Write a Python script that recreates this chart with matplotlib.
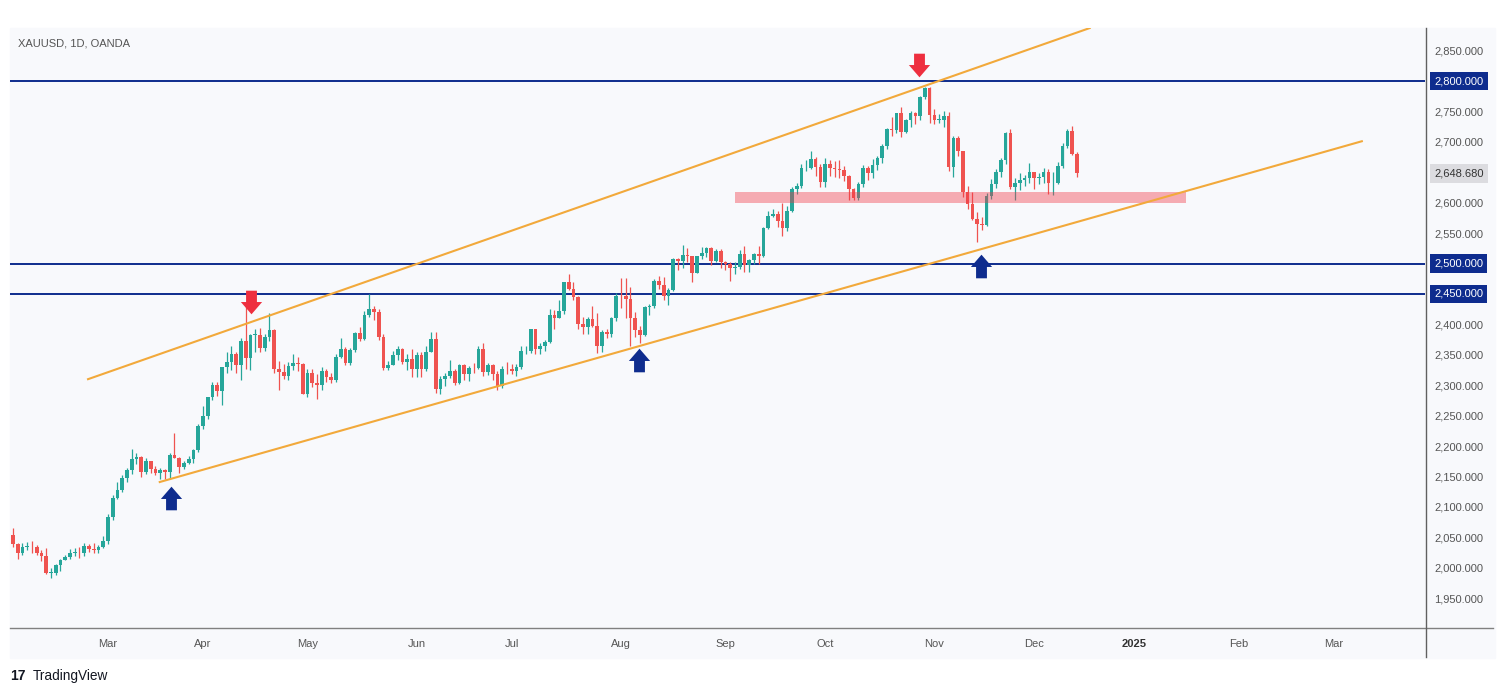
import numpy as np
import pandas as pd
import matplotlib
matplotlib.use("Agg")
import matplotlib.pyplot as plt
from matplotlib.path import Path
from matplotlib.patches import Rectangle
from matplotlib.lines import Line2D

plt.rcParams['font.family'] = ['Liberation Sans', 'DejaVu Sans']

# XAUUSD daily, OANDA (Feb 2 - Dec 13 2024)
first_open = 2054
close = [
    # Feb
    2039, 2025, 2035, 2035, 2034, 2024, 2020, 1992, 1992, 2004, 2013, 2017, 2025, 2025, 2024, 2036, 2031, 2030, 2034, 2044,
    # Mar
    2083, 2114, 2128, 2148, 2160, 2179, 2182, 2158, 2175, 2162, 2155, 2160, 2157, 2186, 2181, 2165, 2172, 2179, 2194, 2233,
    # Apr
    2250, 2280, 2300, 2290, 2330, 2339, 2352, 2333, 2372, 2344, 2383, 2383, 2361, 2379, 2391, 2327, 2322, 2316, 2332, 2337, 2335, 2286,
    # May
    2320, 2303, 2301, 2324, 2314, 2309, 2346, 2360, 2336, 2358, 2386, 2376, 2415, 2425, 2421, 2379, 2329, 2334, 2350, 2360, 2338, 2343, 2327,
    # Jun
    2350, 2327, 2355, 2376, 2294, 2311, 2316, 2324, 2303, 2333, 2319, 2329, 2328, 2360, 2322, 2334, 2319, 2298, 2327, 2326,
    # Jul
    2323, 2330, 2356, 2356, 2392, 2359, 2364, 2371, 2415, 2411, 2422, 2469, 2459, 2445, 2400, 2396, 2409, 2397, 2364, 2387, 2384, 2410, 2447,
    # Aug
    2446, 2442, 2410, 2390, 2382, 2428, 2431, 2472, 2465, 2447, 2456, 2507, 2504, 2514, 2512, 2484, 2512, 2518, 2525, 2505, 2520, 2503,
    # Sep
    2500, 2493, 2495, 2516, 2497, 2506, 2516, 2512, 2558, 2578, 2582, 2570, 2559, 2587, 2622, 2628, 2657, 2657, 2672, 2658, 2634,
    # Oct
    2663, 2657, 2656, 2653, 2644, 2622, 2608, 2631, 2657, 2649, 2662, 2674, 2693, 2721, 2719, 2748, 2716, 2736, 2747, 2743, 2774, 2788, 2744,
    # Nov
    2736, 2736, 2743, 2659, 2706, 2685, 2618, 2598, 2573, 2565, 2563, 2611, 2631, 2650, 2670, 2715, 2625, 2632, 2637, 2641, 2650,
    # Dec
    2640, 2643, 2650, 2632, 2633, 2660, 2694, 2718, 2680, 2648.68,
]
high = [
    2065, 2040, 2040, 2043, 2044, 2037, 2029, 2032, 1999, 2006, 2015, 2021, 2031, 2033, 2035, 2041, 2039, 2041, 2037, 2052,
    2088, 2119, 2141, 2152, 2164, 2195, 2189, 2184, 2180, 2175, 2167, 2164, 2163, 2188, 2222, 2182, 2176, 2184, 2196, 2236,
    2266, 2280, 2305, 2305, 2330, 2354, 2365, 2354, 2378, 2431, 2385, 2392, 2394, 2385, 2418, 2393, 2340, 2335, 2338, 2352, 2347, 2337,
    2326, 2326, 2319, 2330, 2327, 2320, 2351, 2378, 2363, 2362, 2388, 2395, 2422, 2450, 2431, 2425, 2385, 2340, 2357, 2364, 2362, 2351, 2360,
    2354, 2354, 2364, 2388, 2387, 2316, 2320, 2342, 2326, 2335, 2335, 2332, 2336, 2365, 2369, 2336, 2335, 2323, 2331, 2339,
    2335, 2335, 2364, 2364, 2392, 2393, 2369, 2375, 2425, 2424, 2440, 2469, 2483, 2470, 2446, 2412, 2412, 2430, 2419, 2390, 2392, 2412, 2451,
    2477, 2477, 2462, 2420, 2398, 2431, 2433, 2475, 2479, 2478, 2460, 2509, 2509, 2531, 2525, 2513, 2513, 2527, 2528, 2528, 2524, 2524,
    2504, 2503, 2503, 2523, 2529, 2507, 2517, 2529, 2560, 2586, 2589, 2586, 2600, 2595, 2625, 2632, 2664, 2670, 2685, 2675, 2664,
    2673, 2670, 2668, 2670, 2660, 2646, 2624, 2634, 2662, 2660, 2672, 2676, 2697, 2722, 2741, 2748, 2758, 2737, 2750, 2749, 2775, 2790, 2790,
    2754, 2746, 2750, 2749, 2710, 2709, 2685, 2627, 2618, 2585, 2576, 2616, 2639, 2656, 2674, 2716, 2721, 2640, 2648, 2645, 2665,
    2650, 2649, 2657, 2656, 2650, 2667, 2698, 2721, 2726, 2684,
]
low = [
    2034, 2014, 2021, 2030, 2025, 2021, 2012, 1990, 1984, 1989, 1995, 2013, 2014, 2019, 2016, 2019, 2026, 2025, 2024, 2032,
    2039, 2079, 2113, 2125, 2141, 2154, 2170, 2150, 2154, 2155, 2152, 2146, 2146, 2146, 2180, 2156, 2162, 2170, 2172, 2190,
    2228, 2245, 2275, 2282, 2268, 2320, 2325, 2320, 2308, 2326, 2325, 2354, 2355, 2357, 2372, 2320, 2292, 2310, 2309, 2325, 2323, 2285,
    2280, 2297, 2277, 2292, 2306, 2303, 2306, 2345, 2334, 2334, 2355, 2373, 2374, 2412, 2407, 2374, 2325, 2325, 2333, 2341, 2335, 2325, 2314,
    2314, 2314, 2323, 2355, 2287, 2286, 2298, 2312, 2301, 2302, 2308, 2307, 2320, 2327, 2316, 2317, 2309, 2293, 2296, 2319,
    2319, 2316, 2326, 2351, 2353, 2352, 2351, 2357, 2370, 2393, 2410, 2417, 2456, 2440, 2392, 2385, 2384, 2395, 2353, 2355, 2378, 2380, 2405,
    2427, 2410, 2364, 2380, 2369, 2381, 2415, 2427, 2458, 2440, 2432, 2455, 2489, 2492, 2502, 2470, 2484, 2507, 2511, 2498, 2502, 2492,
    2489, 2472, 2483, 2491, 2486, 2486, 2500, 2500, 2510, 2556, 2577, 2560, 2546, 2554, 2585, 2614, 2624, 2652, 2655, 2644, 2625,
    2625, 2644, 2642, 2641, 2635, 2604, 2604, 2604, 2625, 2637, 2640, 2654, 2665, 2688, 2710, 2714, 2708, 2715, 2724, 2730, 2736, 2770, 2731,
    2730, 2731, 2725, 2652, 2643, 2677, 2610, 2590, 2572, 2536, 2555, 2562, 2606, 2624, 2643, 2664, 2623, 2605, 2621, 2628, 2632,
    2622, 2631, 2632, 2614, 2613, 2630, 2657, 2690, 2678, 2643,
]

# horizontal levels, zone, channel, arrows (bar index / price)
levels = [2800, 2500, 2450]
last_price = 2648.68
zone_bars = (152, 247)
zone_prices = (2599, 2618)
upper_channel = ([15.8, 226.7], [2310, 2887])
lower_channel = ([30.9, 284.0], [2141, 2701])
red_arrows = ([50.1, 190.7], [2437, 2826])
blue_arrows = ([33.2, 131.9, 203.9], [2115, 2341, 2496])
axis_prices = [1950, 2000, 2050, 2100, 2150, 2200, 2250, 2300, 2350, 2400, 2550, 2600, 2700, 2750, 2850]

# trading days (OANDA skips Good Friday, Christmas, New Year)
holidays = pd.to_datetime(['2024-03-29', '2024-12-25', '2025-01-01'])
days = pd.bdate_range('2024-02-02', '2025-03-31')
days = days[~days.isin(holidays)]

o = np.array([first_open] + close[:-1], dtype=float)
c = np.array(close, dtype=float)
h = np.maximum(np.array(high, dtype=float), np.maximum(o, c))
l = np.minimum(np.array(low, dtype=float), np.minimum(o, c))
n = len(c)
x = np.arange(n)

W, H = 1505, 694
bg = '#F8F9FC'
up, down = '#26A69A', '#EF5350'
navy = '#0E2C8E'
fig = plt.figure(figsize=(W / 100, H / 100), dpi=100)
fig.patches.append(Rectangle((10 / W, 1 - 658 / H), 1485 / W, 630 / H,
                             transform=fig.transFigure, color=bg, zorder=-5))
ax = fig.add_axes([10 / W, 1 - 628 / H, 1415 / W, 600 / H])
ax.set_facecolor(bg)
for s in ax.spines.values():
    s.set_visible(False)

# candles
col = np.where(c >= o, up, down)
ax.vlines(x, l, h, color=col, lw=0.9, zorder=3)
body = np.maximum(np.abs(c - o), 0.8)
ax.bar(x, body, bottom=np.minimum(o, c), width=0.78, color=col, zorder=4)

# levels & zone & channel
for lv in levels:
    ax.axhline(lv, color=navy, lw=1.4, zorder=2)
ax.add_patch(Rectangle((zone_bars[0], zone_prices[0]), zone_bars[1] - zone_bars[0],
                       zone_prices[1] - zone_prices[0], color='#F23645', alpha=0.4, lw=0, zorder=5))
ax.plot(*upper_channel, color='#F2A93B', lw=1.5, zorder=6)
ax.plot(*lower_channel, color='#F2A93B', lw=1.5, zorder=6)

# arrows
down_arrow = Path([(-0.23, 0.5), (0.23, 0.5), (0.23, 0.02), (0.45, 0.02), (0, -0.5),
                   (-0.45, 0.02), (-0.23, 0.02), (-0.23, 0.5)], closed=True)
up_arrow = Path([(vx, -vy) for vx, vy in down_arrow.vertices], closed=True)
ax.plot(*red_arrows, ls='none', marker=down_arrow, markersize=17, color='#EE2F3F', mew=0, zorder=7)
ax.plot(*blue_arrows, ls='none', marker=up_arrow, markersize=17, color=navy, mew=0, zorder=7)

ax.set_xlim(-0.63, 297.3)
ax.set_ylim(1901.1, 2887.1)

# price scale
ax.yaxis.tick_right()
ax.set_yticks(axis_prices)
ax.set_yticklabels([f"{v:,.3f}" for v in axis_prices])
ax.tick_params(axis='y', length=0, pad=6.5, labelsize=8, labelcolor='#555555')
for lv in levels:
    ax.annotate(f"{lv:,.3f}", xy=(1, lv), xycoords=ax.get_yaxis_transform(), xytext=(6.5, 0),
                textcoords='offset points', ha='left', va='center', fontsize=8, color='white',
                bbox=dict(boxstyle='square,pad=0.4', fc=navy, ec='none'), annotation_clip=False)
ax.annotate(f"{last_price:,.3f}", xy=(1, last_price), xycoords=ax.get_yaxis_transform(), xytext=(6.5, 0),
            textcoords='offset points', ha='left', va='center', fontsize=8, color='#333333',
            bbox=dict(boxstyle='square,pad=0.4', fc='#DCDCE0', ec='none'), annotation_clip=False)

# time scale
month_start = pd.Series(np.arange(len(days)), index=days).groupby([days.year, days.month]).first()
ticks, labels = [], []
for (yr, mo), i in month_start.items():
    if (yr, mo) < (2024, 3):
        continue
    ticks.append(i)
    labels.append(str(yr) if mo == 1 else pd.Timestamp(yr, mo, 1).strftime('%b'))
ax.set_xticks(ticks)
ax.set_xticklabels(labels)
ax.tick_params(axis='x', length=0, pad=8, labelsize=8, labelcolor='#555555')
for t in ax.get_xticklabels():
    if t.get_text() == '2025':
        t.set_fontweight('bold')
        t.set_color('#333333')

# separators
fig.add_artist(Line2D([10 / W, 1493 / W], [1 - 628 / H] * 2, color='#808080', lw=1))
fig.add_artist(Line2D([1426 / W] * 2, [1 - 28 / H, 1 - 657 / H], color='#606060', lw=1))

fig.text(18 / W, 1 - 44 / H, "XAUUSD, 1D, OANDA", fontsize=8, color='#555555', va='center')
fig.text(10 / W, 1 - 676 / H, "17", fontsize=10, fontweight='heavy', color='#131722', va='center')
fig.text(33 / W, 1 - 676 / H, "TradingView", fontsize=9.8, color='#131722', va='center')

fig.savefig('out.png', dpi=100, facecolor='white')
